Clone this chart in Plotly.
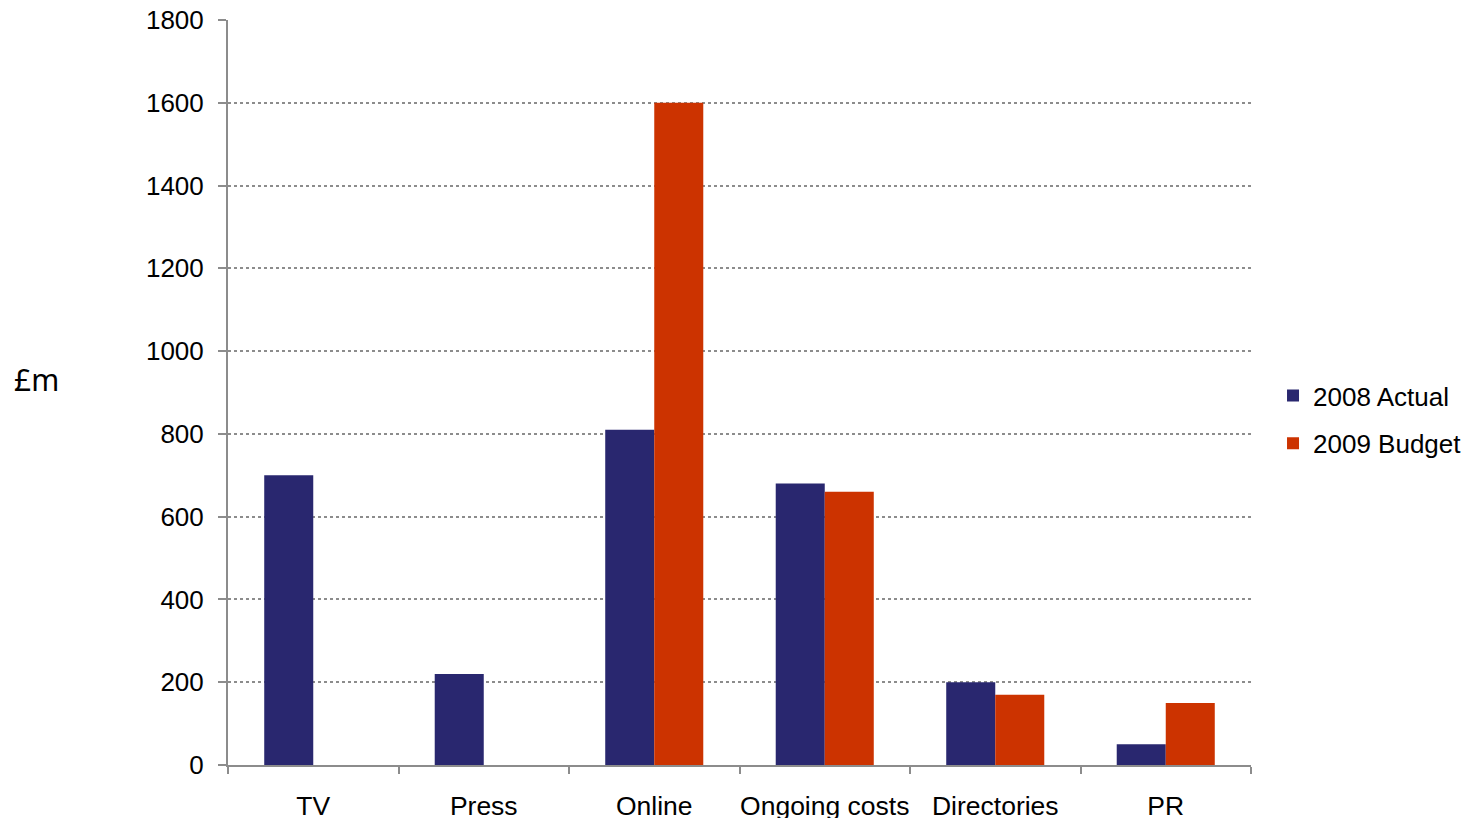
import plotly.graph_objects as go

# Marketing spend by channel, £m
categories = ["TV", "Press", "Online", "Ongoing costs", "Directories", "PR"]
actual_2008 = [700, 220, 810, 680, 200, 50]
budget_2009 = [None, None, 1600, 660, 170, 150]

y_ticks = [0, 200, 400, 600, 800, 1000, 1200, 1400, 1600, 1800]

NAVY = "#29276F"
RED = "#CC3300"
GRID = "#8C8C8C"
AXIS = "#8C8C8C"
FONT = "Liberation Sans, Arial, sans-serif"

fig = go.Figure()
fig.add_trace(go.Bar(
    x=categories, y=actual_2008, name="2008 Actual",
    marker=dict(color=NAVY, line=dict(width=0)), legendgroup="a",
))
fig.add_trace(go.Bar(
    x=categories, y=budget_2009, name="2009 Budget",
    marker=dict(color=RED, line=dict(width=0)), legendgroup="b",
))

fig.update_layout(
    width=1470, height=818,
    margin=dict(l=228, r=219, t=20, b=53, autoexpand=False),
    paper_bgcolor="white", plot_bgcolor="white",
    barmode="group", bargap=0.425, bargroupgap=0,
    font=dict(family=FONT, size=24, color="#000000"),
    showlegend=True,
    legend=dict(
        xref="container", yref="container",
        x=0.866, y=0.487, xanchor="left", yanchor="middle",
        font=dict(family=FONT, size=26, color="#000000"),
        traceorder="grouped", tracegroupgap=11,
        bgcolor="rgba(0,0,0,0)",
    ),
    xaxis=dict(
        showline=True, linecolor=AXIS, linewidth=2,
        ticks="outside", tickson="boundaries", ticklen=7, tickcolor=AXIS, tickwidth=2,
        showgrid=False, ticklabelstandoff=16, tickangle=0, automargin=False,
        tickfont=dict(family=FONT, size=26.5, color="#000000"),
    ),
    yaxis=dict(
        range=[0, 1800], tickvals=y_ticks,
        showline=True, linecolor=AXIS, linewidth=2,
        ticks="outside", ticklen=8, tickcolor=AXIS, tickwidth=2,
        showgrid=True, gridcolor=GRID, griddash="dot", gridwidth=1.5,
        zeroline=False, ticklabelstandoff=9, automargin=False,
        tickfont=dict(family=FONT, size=26, color="#000000"),
    ),
    annotations=[dict(
        text="£m", xref="paper", yref="paper",
        x=-0.211, y=0.517, xanchor="left", yanchor="middle",
        showarrow=False,
        font=dict(family="Noto Sans, sans-serif", size=30, color="#000000"),
    )],
)

fig.write_html("out.html")
